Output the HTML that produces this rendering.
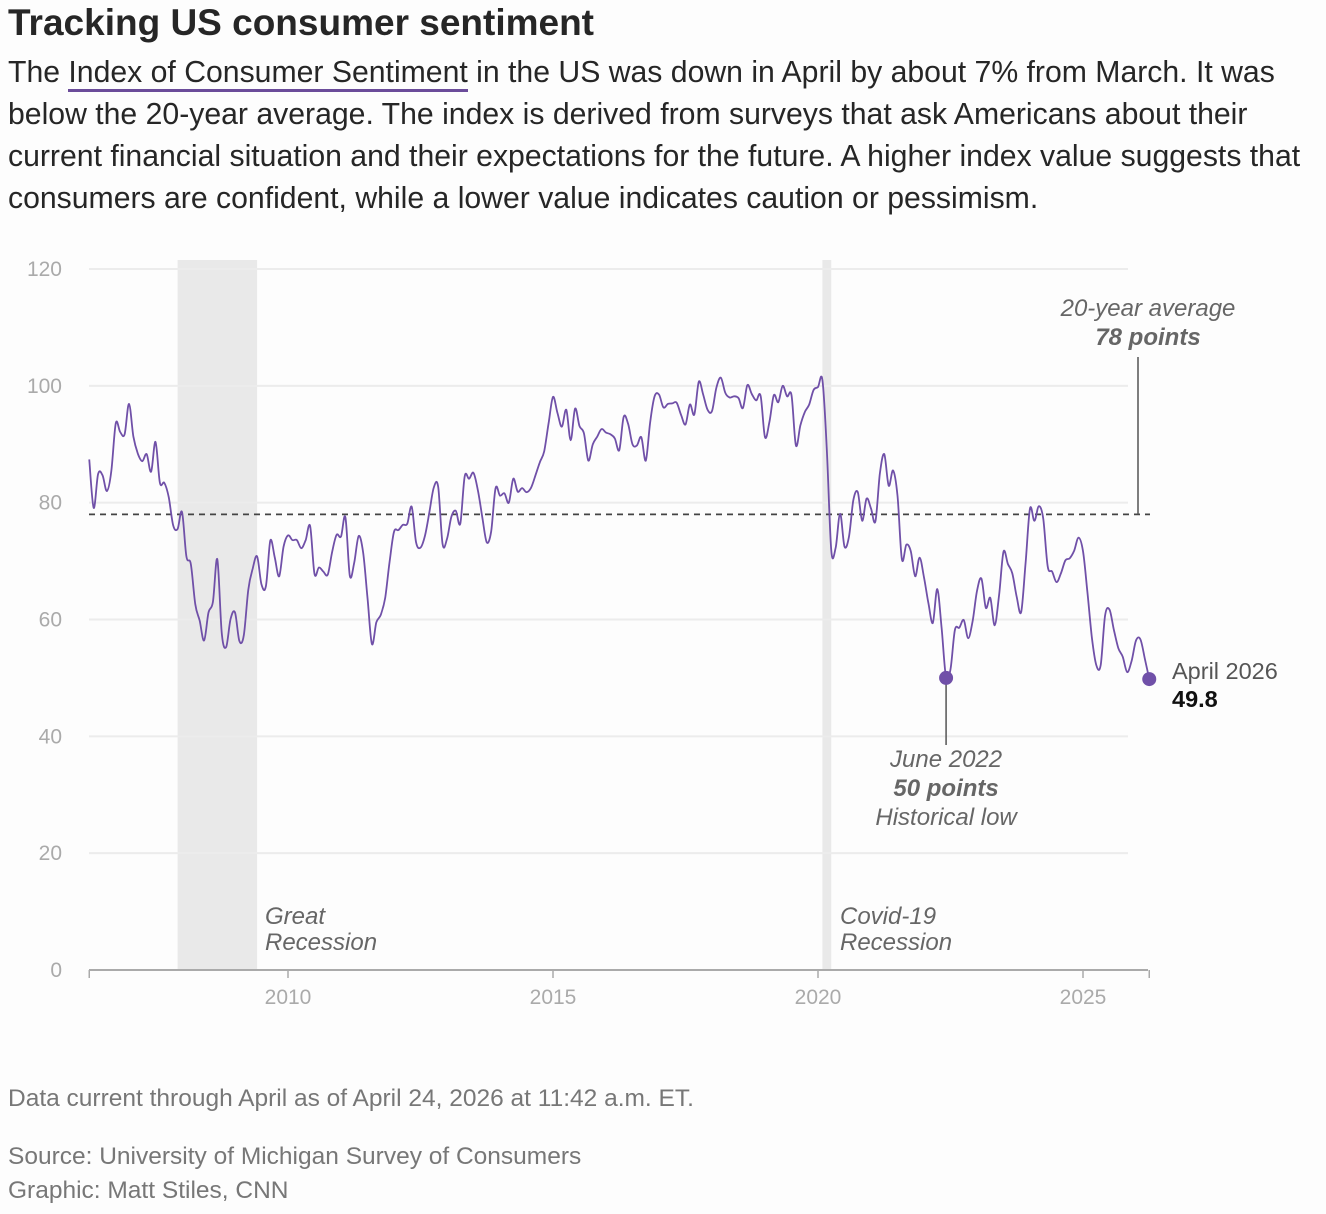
<!DOCTYPE html>
<html><head><meta charset="utf-8">
<style>
body{margin:0;background:#fdfdfd;font-family:"Liberation Sans",sans-serif;width:1326px;height:1214px;overflow:hidden;position:relative}
#title{position:absolute;left:8px;top:2px;font-size:37px;font-weight:bold;color:#262626;margin:0;letter-spacing:0}
#sub{position:absolute;left:8px;top:52px;width:1318px;font-size:30.2px;line-height:42px;color:#262626;margin:0}
#sub u{text-decoration:none;border-bottom:3px solid #6b4c9a}
.foot{position:absolute;left:8px;font-size:24.5px;color:#777}
svg{position:absolute;left:0;top:0}
</style></head><body>
<h1 id="title">Tracking US consumer sentiment</h1>
<p id="sub">The <u>Index of Consumer Sentiment</u> in the US was down in April by about 7% from March. It was below the 20-year average. The index is derived from surveys that ask Americans about their current financial situation and their expectations for the future. A higher index value suggests that consumers are confident, while a lower value indicates caution or pessimism.</p>
<svg id="chart" width="1326" height="1214"></svg>
<div class="foot" style="top:1085px">Data current through April as of April 24, 2026 at 11:42 a.m. ET.</div>
<div class="foot" style="top:1143px">Source: University of Michigan Survey of Consumers</div>
<div class="foot" style="top:1177px">Graphic: Matt Stiles, CNN</div>
<script>
const startYear=2006, startMonth=4;
const sentiment=[87.4,79.1,84.9,84.7,82.0,85.4,93.6,92.1,91.7,
96.9,91.3,88.4,87.1,88.3,85.3,90.4,83.4,83.4,80.9,76.1,75.5,
78.4,70.8,69.5,62.6,59.8,56.4,61.2,63.0,70.3,57.6,55.3,60.1,
61.2,56.3,57.3,65.1,68.7,70.8,66.0,65.7,73.5,70.6,67.4,72.5,
74.4,73.6,73.6,72.2,73.6,76.0,67.8,68.9,68.2,67.7,71.6,74.5,
74.2,77.5,67.5,69.8,74.3,71.5,63.7,55.8,59.5,60.8,63.7,69.9,
75.0,75.3,76.2,76.4,79.3,73.2,72.3,74.3,78.3,82.6,82.7,72.9,
73.8,77.6,78.6,76.4,84.5,84.1,85.1,82.1,77.5,73.2,75.1,82.5,
81.2,81.6,80.0,84.1,81.9,82.5,81.8,82.5,84.6,86.9,88.8,93.6,
98.1,95.4,93.0,95.9,90.7,96.1,93.1,91.9,87.2,90.0,91.3,92.6,
92.0,91.7,91.0,89.0,94.7,93.5,90.0,89.8,91.2,87.2,93.8,98.2,
98.5,96.3,96.9,97.0,97.1,95.0,93.4,96.8,95.1,100.7,98.5,95.9,
95.7,99.7,101.4,98.8,98.0,98.2,97.9,96.2,100.1,98.6,97.5,98.3,
91.2,93.8,98.4,97.2,100.0,98.2,98.4,89.8,93.2,95.5,96.8,99.3,
99.8,101.0,89.1,71.8,72.3,78.1,72.5,74.1,80.4,81.8,76.9,80.7,
79.0,76.8,84.9,88.3,82.9,85.5,81.2,70.3,72.8,71.7,67.4,70.6,
67.2,62.8,59.4,65.2,58.4,50.0,51.5,58.2,58.6,59.9,56.8,59.7,
64.9,67.0,62.0,63.7,59.0,64.2,71.6,69.5,67.9,63.8,61.3,69.7,
79.0,76.9,79.4,77.2,69.1,68.2,66.4,67.9,70.1,70.5,71.8,74.0,
71.7,64.7,57.0,52.2,52.2,60.7,61.7,58.2,55.1,53.6,51.0,52.9,
56.4,56.6,53.3,49.8];
const yTicks=[0,20,40,60,80,100,120];
const xTicks=[2010,2015,2020,2025];
const average=78;
const recessions=[[2007.917,2009.417],[2020.083,2020.25]];
const lowIndex=194; // June 2022

const NS="http://www.w3.org/2000/svg";
const svg=document.getElementById('chart');
const x=t=>288+(t-2010)*53;
const y=v=>970-v*(701/120);
function mk(tag,attrs,parent){const e=document.createElementNS(NS,tag);for(const k in attrs)e.setAttribute(k,attrs[k]);(parent||svg).appendChild(e);return e;}
function tx(s,attrs){const e=mk('text',attrs);e.textContent=s;return e;}

recessions.forEach((r,i)=>{
  const e=mk('rect',{x:x(r[0]),y:260,width:Math.max(5,x(r[1])-x(r[0])),height:710,fill:'#e9e9e9'});
  
  
});
yTicks.forEach(v=>{
  if(v>0){const g=mk('line',{x1:89,x2:1128,y1:y(v),y2:y(v),stroke:'#ececec','stroke-width':2});
  
  }
  const t=tx(v,{x:62,y:y(v)+7,'text-anchor':'end','font-size':21,fill:'#aaa'});
  
  
});
const ax=mk('line',{x1:89,x2:1148,y1:970,y2:970,stroke:'#aaa','stroke-width':2});


[2006.25].concat(xTicks,[2026.25]).forEach(t=>{mk('line',{x1:x(t),x2:x(t),y1:970,y2:978,stroke:'#aaa','stroke-width':1.5});});
xTicks.forEach(t=>{
  const e=tx(t,{x:x(t),y:1004,'text-anchor':'middle','font-size':21,fill:'#aaa'});
  
  
});
const av=mk('line',{x1:89,x2:1150,y1:y(average),y2:y(average),stroke:'#444','stroke-width':1.8,'stroke-dasharray':'6,5'});


mk('line',{x1:1138,x2:1138,y1:357,y2:y(average),stroke:'#555','stroke-width':1.5});
const it={'font-style':'italic','font-size':24,fill:'#666','text-anchor':'middle'};
tx('20-year average',Object.assign({x:1148,y:316},it));
tx(average+' points',Object.assign({x:1148,y:345,'font-weight':'bold'},it));

const pts=sentiment.map((v,i)=>[x(startYear+(startMonth-1+i)/12),y(v)]);
let d='M'+pts[0][0]+','+pts[0][1];
for(let i=0;i<pts.length-1;i++){
  const p0=pts[Math.max(0,i-1)],p1=pts[i],p2=pts[i+1],p3=pts[Math.min(pts.length-1,i+2)];
  const c1=[p1[0]+(p2[0]-p0[0])/6,p1[1]+(p2[1]-p0[1])/6],c2=[p2[0]-(p3[0]-p1[0])/6,p2[1]-(p3[1]-p1[1])/6];
  d+=`C${c1[0].toFixed(1)},${c1[1].toFixed(1)} ${c2[0].toFixed(1)},${c2[1].toFixed(1)} ${p2[0].toFixed(1)},${p2[1].toFixed(1)}`;
}
const ln=mk('path',{d:d,fill:'none',stroke:'#7050a8','stroke-width':1.8});



const lp=pts[lowIndex];
mk('line',{x1:lp[0],x2:lp[0],y1:lp[1],y2:745,stroke:'#555','stroke-width':1.5});
const ld=mk('circle',{cx:lp[0],cy:lp[1],r:7,fill:'#7050a8'});


tx('June 2022',Object.assign({x:lp[0],y:767},it));
tx(sentiment[lowIndex].toFixed(0)+' points',Object.assign({x:lp[0],y:796,'font-weight':'bold'},it));
tx('Historical low',Object.assign({x:lp[0],y:825},it));
const ep=pts[pts.length-1];
const ed=mk('circle',{cx:ep[0],cy:ep[1],r:7,fill:'#7050a8'});


tx('April 2026',{x:1172,y:679,'font-size':23.5,fill:'#555'});
tx(sentiment[sentiment.length-1].toFixed(1),{x:1172,y:707,'font-size':23.5,'font-weight':'bold',fill:'#111'});
const rl={'font-style':'italic','font-size':24,fill:'#666'};
tx('Great',Object.assign({x:265,y:924},rl));
tx('Recession',Object.assign({x:265,y:950},rl));
tx('Covid-19',Object.assign({x:840,y:924},rl));
tx('Recession',Object.assign({x:840,y:950},rl));
</script>
</body></html>
